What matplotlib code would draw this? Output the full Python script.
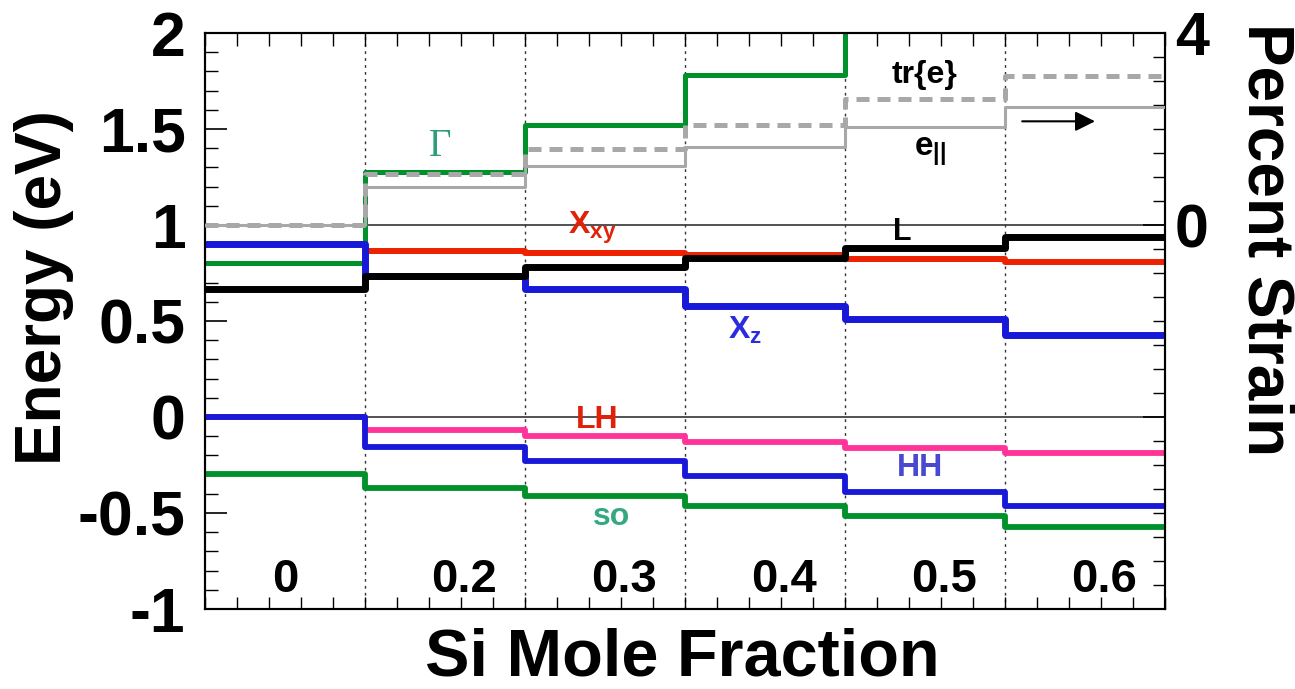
import numpy as np
import matplotlib
matplotlib.use('Agg')
import matplotlib.pyplot as plt
from matplotlib.ticker import MultipleLocator, FixedLocator

plt.rcParams['font.family'] = ['Liberation Sans', 'DejaVu Sans']
plt.rcParams['font.weight'] = 'bold'
plt.rcParams['mathtext.fontset'] = 'custom'
plt.rcParams['mathtext.rm'] = 'Liberation Sans:bold'
plt.rcParams['mathtext.bf'] = 'Liberation Sans:bold'
plt.rcParams['mathtext.it'] = 'Liberation Sans:bold'

# Datos: una columna por composicion (escalones)
bordes = [0, 1, 2, 3, 4, 5, 6]
etiquetas_x = ['0', '0.2', '0.3', '0.4', '0.5', '0.6']

gamma = [0.80, 1.278, 1.521, 1.781, 2.05, 2.30]
x_xy = [0.90, 0.866, 0.853, 0.845, 0.821, 0.809]
x_z = [0.90, 0.735, 0.665, 0.578, 0.508, 0.427]
banda_L = [0.667, 0.734, 0.783, 0.830, 0.882, 0.939]
lh = [0.0, -0.068, -0.099, -0.128, -0.160, -0.189]
hh = [0.0, -0.156, -0.227, -0.307, -0.389, -0.462]
so = [-0.297, -0.368, -0.411, -0.462, -0.516, -0.571]

# Deformacion en porcentaje (eje derecho)
traza_e = [0.0, 1.06, 1.58, 2.08, 2.62, 3.10]
e_par = [0.0, 0.80, 1.22, 1.62, 2.04, 2.45]


def escalon(v):
    return list(v) + [v[-1]]


fig = plt.figure(figsize=(12.95, 6.89), dpi=100)
ax = fig.add_axes([205 / 1295, 1 - 609 / 689, 960 / 1295, 576 / 689])

verde = '#00912A'
azul = '#1818D8'
rojo = '#EE2200'
rosa = '#FF3399'
gris = '#A8A8A8'

ax.axhline(1.0, color='#222222', lw=1.1, zorder=1)
ax.axhline(0.0, color='#222222', lw=1.1, zorder=1)
for xv in bordes[1:-1]:
    ax.axvline(xv, color='#333333', lw=1.0, ls=(0, (2, 3)), zorder=1)

ax.step(bordes, escalon(gamma), where='post', color=verde, lw=3.6, zorder=2)
ax.step(bordes, escalon(x_xy), where='post', color=rojo, lw=4.3, zorder=3)
ax.step(bordes, escalon(x_z), where='post', color=azul, lw=5.0, zorder=4)
ax.step(bordes, escalon(banda_L), where='post', color='black', lw=5.0, zorder=5)
ax.step(bordes, escalon(lh), where='post', color=rosa, lw=4.2, zorder=2)
ax.step(bordes, escalon(hh), where='post', color=azul, lw=4.2, zorder=3)
ax.step(bordes, escalon(so), where='post', color=verde, lw=4.2, zorder=3)

ax.set_xlim(0, 6)
ax.set_ylim(-1, 2)
ax.set_yticks([-1, -0.5, 0, 0.5, 1, 1.5, 2])
ax.set_yticklabels(['-1', '-0.5', '0', '0.5', '1', '1.5', '2'], fontsize=45, fontweight='bold')
ax.yaxis.set_minor_locator(MultipleLocator(0.1))
ax.xaxis.set_major_locator(MultipleLocator(0.2))
ax.tick_params(axis='x', which='both', direction='in', top=True, bottom=True, length=9, width=1.0, labelbottom=False)
ax.tick_params(axis='y', which='major', direction='in', left=True, right=False, length=16, width=1.2, pad=14)
ax.tick_params(axis='y', which='minor', direction='in', left=True, right=False, length=9, width=1.0)
for s in ax.spines.values():
    s.set_linewidth(1.5)

# Etiquetas de composicion dentro del grafico
for i, t in enumerate(etiquetas_x):
    xc = 0.5 if i == 0 else i + 0.62
    ax.text(xc, -0.85, t, fontsize=34, fontweight='bold', ha='center', va='center')

# Eje derecho: deformacion
ax2 = ax.twinx()
ax2.step(bordes, escalon(traza_e), where='post', color=gris, lw=3.6, ls=(0, (2.6, 1.6)), zorder=3)
ax2.step(bordes, escalon(e_par), where='post', color=gris, lw=2.2, zorder=3)
ax2.set_ylim(-8, 4)
ax2.yaxis.set_major_locator(FixedLocator([-8, -4, 0, 4]))
ax2.yaxis.set_minor_locator(MultipleLocator(0.5))
ax2.set_yticklabels(['', '', '0', '4'], fontsize=44, fontweight='bold')
ax2.tick_params(axis='y', which='major', direction='in', length=16, width=1.2, pad=7)
ax2.tick_params(axis='y', which='minor', direction='in', length=9, width=1.0)
for s in ax2.spines.values():
    s.set_linewidth(1.5)

# Textos de las bandas
ax.text(1.47, 1.41, 'Γ', fontsize=28, color='#2E9E78', ha='center', va='center',
        family='Liberation Serif', fontweight='normal')
ax.text(2.42, 0.985, r'$\mathbf{X_{xy}}$', fontsize=23, color='#E02208', ha='center', va='center')
ax.text(3.375, 0.45, r'$\mathbf{X_{z}}$', fontsize=23, color='#2B2BE0', ha='center', va='center')
ax.text(4.36, 0.965, 'L', fontsize=22, color='black', ha='center', va='center')
ax.text(4.5, 1.78, 'tr{e}', fontsize=23, color='black', ha='center', va='center')
ax.text(4.53, 1.38, r'$\mathbf{e_{||}}$', fontsize=24, color='black', ha='center', va='center')
ax.text(2.45, -0.015, 'LH', fontsize=23, color='#E0200A', ha='center', va='center')
ax.text(4.47, -0.265, 'HH', fontsize=23, color='#4848D0', ha='center', va='center')
ax.text(2.54, -0.52, 'so', fontsize=23, color='#33A882', ha='center', va='center')
ax.annotate('', xy=(5.58, 1.54), xytext=(5.09, 1.54),
            arrowprops=dict(arrowstyle='-|>', color='black', lw=1.5, mutation_scale=30))

fig.text(44 / 1295, 1 - 288 / 689, 'Energy (eV)', fontsize=46, fontweight='bold', rotation=90,
         ha='center', va='center')
fig.text(1265 / 1295, 1 - 240 / 689, 'Percent Strain', fontsize=46, fontweight='bold', rotation=270,
         ha='center', va='center')
fig.text(682 / 1295, 1 - 658 / 689, 'Si Mole Fraction', fontsize=48, fontweight='bold',
         ha='center', va='center')

fig.savefig('out.png', dpi=100)
